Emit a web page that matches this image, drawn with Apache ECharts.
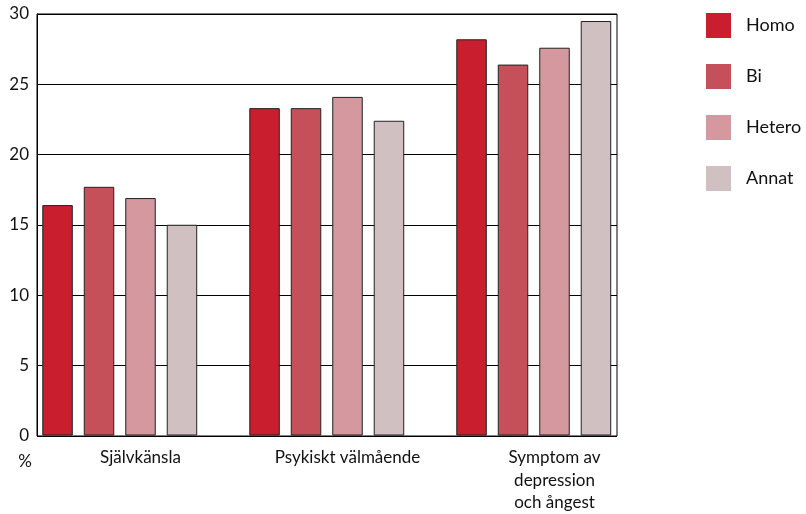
<!DOCTYPE html>
<html><head><meta charset="utf-8">
<script src="https://cdn.jsdelivr.net/npm/echarts@6/dist/echarts.min.js"></script>
<style>html,body{margin:0;padding:0;background:#fff}#c{width:806px;height:514px}</style>
</head><body><div id="c"></div>
<script>
var categories = ['Självkänsla', 'Psykiskt välmående', 'Symptom av\ndepression\noch ångest'];
var seriesNames = ['Homo', 'Bi', 'Hetero', 'Annat'];
var homo = [16.4, 23.3, 28.2];
var bi = [17.7, 23.3, 26.4];
var hetero = [16.9, 24.1, 27.6];
var annat = [15.0, 22.4, 29.5];
var yTicks = [0, 5, 10, 15, 20, 25, 30];
var colors = ['#C81E2E', '#C5505A', '#D4989E', '#D0C0C2'];

var values = [homo, bi, hetero, annat];
var font = 'Lato, "Open Sans", sans-serif';
var series = seriesNames.map(function (n, i) {
  return {
    name: n, type: 'bar', xAxisIndex: 1, yAxisIndex: 1,
    data: values[i], barWidth: 30.5, barGap: '36%',
    itemStyle: { color: colors[i], borderColor: '#222', borderWidth: 1 },
    emphasis: { disabled: true }
  };
});
series.push({ name: '_pad', type: 'bar', xAxisIndex: 1, yAxisIndex: 1,
  data: categories.map(function () { return null; }), barWidth: 30.5, barGap: '36%' });

var chart = echarts.init(document.getElementById('c'), null, { renderer: 'canvas' });
chart.setOption({
  animation: false,
  textStyle: { fontFamily: font },
  grid: [
    { left: 37, top: 14, width: 580, height: 422, show: true, borderColor: '#000', borderWidth: 1, backgroundColor: 'transparent', z: 3 },
    { left: 37, top: 14, width: 621, height: 422, show: false }
  ],
  xAxis: [
    { gridIndex: 0, type: 'value', min: 0, max: 1, show: false },
    { gridIndex: 1, type: 'category', data: categories,
      axisLine: { show: false }, axisTick: { show: false },
      axisLabel: { fontFamily: font, fontSize: 17, color: '#111', margin: 11, lineHeight: 22.5, interval: 0 } }
  ],
  yAxis: [
    { gridIndex: 0, type: 'value', min: yTicks[0], max: yTicks[yTicks.length - 1], interval: 5,
      name: '%', nameLocation: 'start', nameGap: 17,
      nameTextStyle: { fontFamily: font, fontSize: 17, color: '#111', align: 'right', padding: [0, 5, 0, 0], verticalAlign: 'top' },
      axisLine: { show: true, lineStyle: { color: '#000', width: 1 } },
      axisTick: { show: false },
      axisLabel: { fontFamily: font, fontSize: 17, color: '#111', margin: 8 },
      splitLine: { show: true, lineStyle: { color: '#000', width: 1 } } },
    { gridIndex: 1, type: 'value', min: 0, max: 30, show: false, splitLine: { show: false } }
  ],
  legend: {
    orient: 'vertical', left: 701, top: 8, itemWidth: 25, itemHeight: 25, itemGap: 26,
    data: seriesNames, icon: 'rect', selectedMode: false,
    itemStyle: { borderWidth: 0 },
    textStyle: { fontFamily: font, fontSize: 18, color: '#111', padding: [0, 0, 0, 10] }
  },
  series: series
});
</script></body></html>
